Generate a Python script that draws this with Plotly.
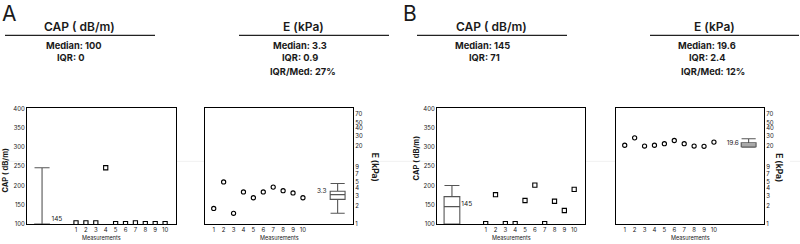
import plotly.graph_objects as go

# ---------------- data ----------------
measurements = [1, 2, 3, 4, 5, 6, 7, 8, 9, 10]

cap_a = [103, 103, 103, 246, 101, 101, 103, 101, 101, 101]
e_a = [1.82, 5.06, 1.51, 3.44, 2.75, 3.44, 4.15, 3.61, 3.31, 2.75]
cap_b = [101, 176, 101, 101, 161, 201, 101, 159, 135, 190]
e_b = [20.8, 27.7, 20.2, 20.8, 22.1, 25.0, 22.1, 20.2, 20.0, 23.5]

# summary boxes: [lowerfence, q1, median, q3, upperfence]
box_cap_a = [100, 100, 100, 100, 246]
box_e_a = [1.51, 2.58, 3.1, 3.53, 4.77]
box_cap_b = [100, 100, 145, 171, 200]
box_e_b = [19.3, 19.6, 21.0, 22.8, 26.8]

box_labels = ["145", "3.3", "145", "19.6"]
label_y = [112, 3.57, 150, 22.0]

cap_ticks = [100, 150, 200, 250, 300, 350, 400]
e_ticks = [1, 2, 3, 4, 5, 7, 9, 20, 30, 40, 50, 70]

headers = {
    "A": ["CAP ( dB/m)", "Median: 100", "IQR: 0"],
    "A2": ["E (kPa)", "Median: 3.3", "IQR: 0.9", "IQR/Med: 27%"],
    "B": ["CAP ( dB/m)", "Median: 145", "IQR: 71"],
    "B2": ["E (kPa)", "Median: 19.6", "IQR: 2.4", "IQR/Med: 12%"],
}

# ---------------- layout helpers ----------------
W, H = 800, 244
def px(x): return x / W
def py(y): return 1 - y / H

FONT = "Inter"
TXT = "#1a1a1a"
BOXC = "#555555"

CAP_BOX_X = -2.43
E_BOX_X = 13.5
CAP_LABEL_X = -0.93
E_LABEL_X = 11.9

fig = go.Figure()

panels = [
    ("x", "y", (27, 176), cap_a, box_cap_a, "cap"),
    ("x2", "y2", (205, 353), e_a, box_e_a, "e"),
    ("x3", "y3", (437, 585), cap_b, box_cap_b, "cap"),
    ("x4", "y4", (616, 764), e_b, box_e_b, "e"),
]

for i, (xa, ya, dom, vals, bx, kind) in enumerate(panels):
    sym = "square-open" if kind == "cap" else "circle-open"
    fig.add_trace(go.Scatter(
        x=measurements, y=vals, mode="markers", xaxis=xa, yaxis=ya,
        marker=dict(symbol=sym, size=4.2, color="black", line=dict(width=1.1, color="black")),
        showlegend=False, hoverinfo="skip"))
    bxpos = CAP_BOX_X if kind == "cap" else E_BOX_X
    fig.add_trace(go.Box(
        x=[bxpos], lowerfence=[bx[0]], q1=[bx[1]], median=[bx[2]], q3=[bx[3]],
        upperfence=[bx[4]], xaxis=xa, yaxis=ya, width=1.6 if kind == "cap" else 1.5,
        whiskerwidth=0.95, line=dict(color=BOXC, width=1.1), fillcolor="rgba(255,255,255,0)",
        showlegend=False, hoverinfo="skip", boxpoints=False))
    lx = CAP_LABEL_X if kind == "cap" else E_LABEL_X
    fig.add_trace(go.Scatter(
        x=[lx], y=[label_y[i]], mode="text", text=[box_labels[i]], xaxis=xa, yaxis=ya,
        textfont=dict(family=FONT, size=6.5, color=TXT), showlegend=False, hoverinfo="skip"))

layout = dict(
    width=W, height=H, margin=dict(l=0, r=0, t=0, b=0),
    paper_bgcolor="white", plot_bgcolor="white",
    font=dict(family=FONT, color=TXT),
)

axis_common = dict(showgrid=False, zeroline=False, showline=True, mirror=True,
                   linecolor="black", linewidth=1)

ybot, ytop = 226.5, 107.5
for i, (xa, ya, dom, vals, bx, kind) in enumerate(panels):
    xk = "xaxis" if xa == "x" else "xaxis" + xa[1:]
    yk = "yaxis" if ya == "y" else "yaxis" + ya[1:]
    xr = [-3.95, 11.1] if kind == "cap" else [0.12, 15.05]
    layout[xk] = dict(axis_common, domain=[px(dom[0]), px(dom[1])], anchor=ya, range=xr,
                      tickmode="array", tickvals=measurements,
                      ticktext=[str(m) for m in measurements], ticks="",
                      tickfont=dict(family=FONT, size=6, color=TXT))
    if kind == "cap":
        layout[yk] = dict(axis_common, domain=[py(ybot), py(ytop)], anchor=xa,
                          range=[100, 400], tickmode="array", tickvals=cap_ticks,
                          ticks="", tickfont=dict(family=FONT, size=6, color=TXT))
    else:
        layout[yk] = dict(axis_common, domain=[py(ybot), py(ytop)], anchor=xa,
                          type="log", range=[0, 1.935], side="right",
                          tickmode="array", tickvals=e_ticks, ticks="",
                          tickfont=dict(family=FONT, size=6, color=TXT))

fig.update_layout(**layout)

ann = []
def text(x, y, s, size, weight="normal", angle=0, xanchor="center"):
    ann.append(dict(x=px(x), y=py(y), xref="paper", yref="paper", text=s, showarrow=False,
                    xanchor=xanchor, yanchor="middle", textangle=angle,
                    font=dict(family=FONT, size=size, color=TXT, weight=weight)))

# panel letters
text(0, 10, "A", 21, xanchor="left")
text(401, 10, "B", 21, xanchor="left")

blocks = [
    ("A", [79, 74, 71], (5, 155)),
    ("A2", [303, 300, 300, 303], (239, 389)),
    ("B", [491, 482, 484], (417, 567)),
    ("B2", [714, 707, 707, 713], (650, 799)),
]
rows_y = [23, 42.5, 55.5, 69.5]
shapes = []
for key, xs, (l0, l1) in blocks:
    lines = headers[key]
    for j, s in enumerate(lines):
        text(xs[j], rows_y[j], s, 12 if j == 0 else 9.3, weight=600 if j == 0 else 700)
    shapes.append(dict(type="line", xref="paper", yref="paper", x0=px(l0), x1=px(l1),
                       y0=py(32.3), y1=py(32.3), line=dict(color="#222222", width=1.2)))

# axis titles
text(5.5, 171, "CAP ( dB/m)", 7.5, weight=700, angle=-90)
text(416.5, 158.5, "CAP ( dB/m)", 7.5, weight=700, angle=-90)
text(375, 167.5, "E (kPa)", 8.5, weight=700, angle=90)
text(779.5, 168.5, "E (kPa)", 8.5, weight=700, angle=90)
for cx in [101.5, 279, 511, 690]:
    text(cx, 240.5, "Measurements", 5.5)

# faint scan line between plots
for a, b in [(0, 26), (177, 204), (380, 436), (586, 615), (790, 800)]:
    shapes.append(dict(type="line", xref="paper", yref="paper", x0=px(a), x1=px(b),
                       y0=py(162), y1=py(162), line=dict(color="#f1f1f1", width=1)))

fig.update_layout(annotations=ann, shapes=shapes)
fig.write_html("out.html", config={"displayModeBar": False, "staticPlot": True},
               post_script="document.body.style.margin='0';document.body.style.overflow='hidden';")
